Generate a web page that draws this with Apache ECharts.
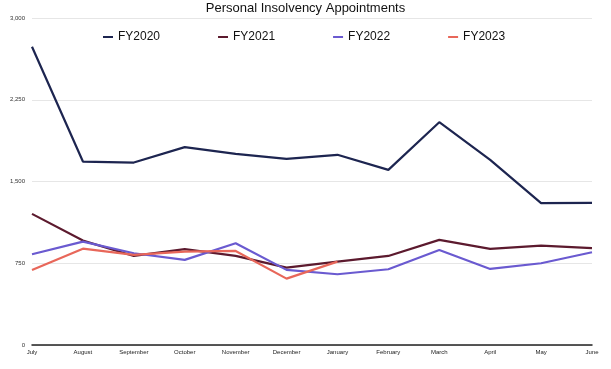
<!DOCTYPE html>
<html><head><meta charset="utf-8">
<script src="https://cdn.jsdelivr.net/npm/echarts@6/dist/echarts.min.js"></script>
<style>html,body{margin:0;padding:0;background:#fff}#c{width:611px;height:369px}</style>
</head><body><div id="c"></div>
<script>
const categories = ["July","August","September","October","November","December","January","February","March","April","May","June"];
const fy2020 = [2736, 1683, 1674, 1815, 1754, 1708, 1745, 1607, 2044, 1699, 1301, 1303];
const fy2021 = [1203, 958, 817, 879, 817, 710, 765, 817, 964, 882, 912, 888];
const fy2022 = [833, 949, 842, 781, 934, 689, 649, 695, 872, 698, 750, 851];
const fy2023 = [689, 884, 826, 857, 863, 609, 765, null, null, null, null, null];
const yTicks = [0, 750, 1500, 2250, 3000];
const seriesNames = ["FY2020","FY2021","FY2022","FY2023"];
const colors = ["#1d2550","#5c1a2e","#6a5ad0","#e8675a"];

const chart = echarts.init(document.getElementById('c'));
const mk = (name, data, color) => ({
  name, type: 'line', data, symbol: 'none', connectNulls: false,
  lineStyle: { width: 2.2, color }, itemStyle: { color }
});
chart.setOption({
  animation: false,
  title: { text: 'Personal Insolvency Appointments', left: 'center', top: -3,
    textStyle: { fontFamily: 'Liberation Sans, Arial', fontSize: 13, fontWeight: 'normal', color: '#111' } },
  legend: {
    data: seriesNames, top: 26, left: 98, itemGap: 58, itemWidth: 10, itemHeight: 2, icon: 'rect',
    textStyle: { fontFamily: 'Liberation Sans, Arial', fontSize: 12, color: '#111' }
  },
  grid: { left: 32, right: 19, top: 18, bottom: 24, containLabel: false },
  xAxis: {
    type: 'category', data: categories, boundaryGap: false,
    axisLine: { lineStyle: { color: '#222', width: 1.5 } },
    axisTick: { show: false },
    axisLabel: { fontSize: 6, color: '#222', margin: 4, fontFamily: 'Liberation Sans, Arial', interval: 0 }
  },
  yAxis: {
    type: 'value', min: 0, max: 3000, interval: 750,
    axisLine: { show: false }, axisTick: { show: false },
    axisLabel: { fontSize: 6, color: '#333', margin: 7, fontFamily: 'Liberation Sans, Arial',
      formatter: v => yTicks.includes(v) ? v.toLocaleString('en-US') : '' },
    splitLine: { lineStyle: { color: '#e6e6e6', width: 1 } }
  },
  series: [mk(seriesNames[0], fy2020, colors[0]), mk(seriesNames[1], fy2021, colors[1]),
           mk(seriesNames[2], fy2022, colors[2]), mk(seriesNames[3], fy2023, colors[3])]
});
</script></body></html>
